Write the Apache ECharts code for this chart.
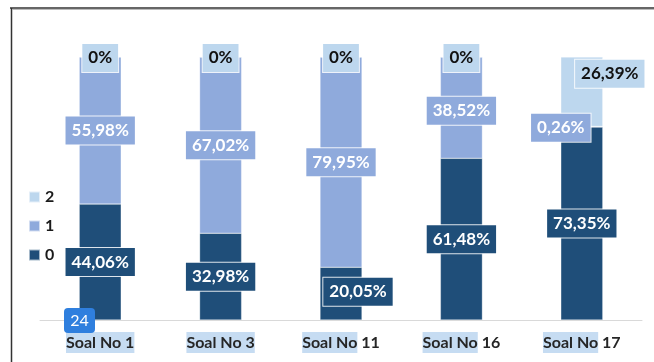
<!DOCTYPE html>
<html>
<head>
<meta charset="utf-8">
<script src="https://cdn.jsdelivr.net/npm/echarts@6/dist/echarts.min.js"></script>
<style>
html,body{margin:0;padding:0;background:#fff;}
#c{width:654px;height:362px;}
</style>
</head>
<body>
<div id="c"></div>
<script>
const categories = ['Soal No 1', 'Soal No 3', 'Soal No 11', 'Soal No 16', 'Soal No 17'];
const seriesNames = ['0', '1', '2'];
const values0 = [44.06, 32.98, 20.05, 61.48, 73.35];
const values1 = [55.98, 67.02, 79.95, 38.52, 0.26];
const values2 = [0, 0, 0, 0, 26.39];

const FONT = 'Lato';
const colors = ['#1f4e79', '#8faadc', '#bdd7ee'];
const labelBg = ['#1f4e79', '#8faadc', '#bdd7ee'];
const labelColor = ['#ffffff', '#ffffff', '#111111'];

function fmt(v) {
  if (v === 0) return '0%';
  return v.toFixed(2).replace('.', ',') + '%';
}

// per-point label nudges (layout only), key = seriesIndex-dataIndex
const nudges = {
  '0-2': [17, -2],
  '1-3': [0, 3],
  '1-4': [-21, 1],
  '2-4': [28, -18],
  '2-0': [0, 1],
  '2-1': [0, 1],
  '2-2': [0, 1],
  '2-3': [0, 1]
};

function buildSeries(idx, vals) {
  return {
    name: seriesNames[idx],
    type: 'bar',
    stack: 'total',
    barWidth: 42,
    clip: false,
    itemStyle: { color: colors[idx], borderColor: 'rgba(255,255,255,0.6)', borderWidth: 0.5 },
    z: 2,
    data: vals,
    label: {
      show: true,
      position: 'inside',
      formatter: p => fmt(p.value),
      color: labelColor[idx],
      fontFamily: FONT,
      fontWeight: 'bold',
      fontSize: 17,
      backgroundColor: labelBg[idx],
      borderColor: 'rgba(255,255,255,0.85)',
      borderWidth: 1,
      padding: [6, 6, 5, 6]
    },
    labelLayout: function (p) {
      const n = nudges[p.seriesIndex + '-' + p.dataIndex] || [0, 0];
      return { dx: n[0], dy: n[1], hideOverlap: false };
    }
  };
}

const fullHl = [0, 1];

const chart = echarts.init(document.getElementById('c'), null, { renderer: 'canvas' });
chart.setOption({
  animation: false,
  backgroundColor: '#ffffff',
  grid: { left: 40, right: 12, top: 57, bottom: 42 },
  legend: {
    orient: 'vertical',
    left: 28,
    top: 189,
    padding: 0,
    data: ['2', '1', '0'],
    itemWidth: 11,
    itemHeight: 11,
    itemGap: 13,
    icon: 'rect',
    selectedMode: false,
    textStyle: { fontFamily: FONT, fontWeight: 'bold', fontSize: 16, color: '#1a1a1a', lineHeight: 16 }
  },
  xAxis: {
    type: 'category',
    data: categories,
    axisLine: { show: true, lineStyle: { color: '#d9d9d9', width: 1 } },
    axisTick: { show: false },
    axisLabel: {
      margin: 12,
      interval: 0,
      formatter: (v, i) => {
        if (fullHl.indexOf(i) >= 0) return '{hl|' + v + '}';
        const k = v.lastIndexOf(' ');
        return '{hl|' + v.slice(0, k) + '}{n|' + v.slice(k) + '}';
      },
      rich: {
        hl: { fontFamily: FONT, fontWeight: 'bold', fontSize: 16, color: '#262626', backgroundColor: '#c6dcf2', padding: [3, 0, 2, 0] },
        n: { fontFamily: FONT, fontWeight: 'bold', fontSize: 16, color: '#262626', padding: [3, 0, 2, 0] }
      }
    }
  },
  yAxis: {
    type: 'value',
    min: 0,
    max: 100,
    show: false,
    splitLine: { show: false }
  },
  series: [buildSeries(0, values0), buildSeries(1, values1), buildSeries(2, values2)],
  graphic: [
    { type: 'line', shape: { x1: 11.5, y1: 8, x2: 11.5, y2: 362 }, style: { stroke: '#333', lineWidth: 1.5 }, z: 100 },
    { type: 'line', shape: { x1: 10, y1: 8, x2: 654, y2: 8 }, style: { stroke: '#333', lineWidth: 1.5 }, z: 100 },
    { type: 'line', shape: { x1: 12, y1: 9.5, x2: 654, y2: 9.5 }, style: { stroke: '#bbb', lineWidth: 1 }, z: 100 },
    { type: 'rect', shape: { x: 64, y: 308, width: 31, height: 25, r: 4 }, style: { fill: '#2f7fde' }, z: 100 },
    { type: 'text', x: 79.5, y: 320.5, style: { text: '24', fill: '#ffffff', fontFamily: FONT, fontSize: 16, align: 'center', verticalAlign: 'middle' }, z: 101 }
  ]
});
</script>
</body>
</html>
